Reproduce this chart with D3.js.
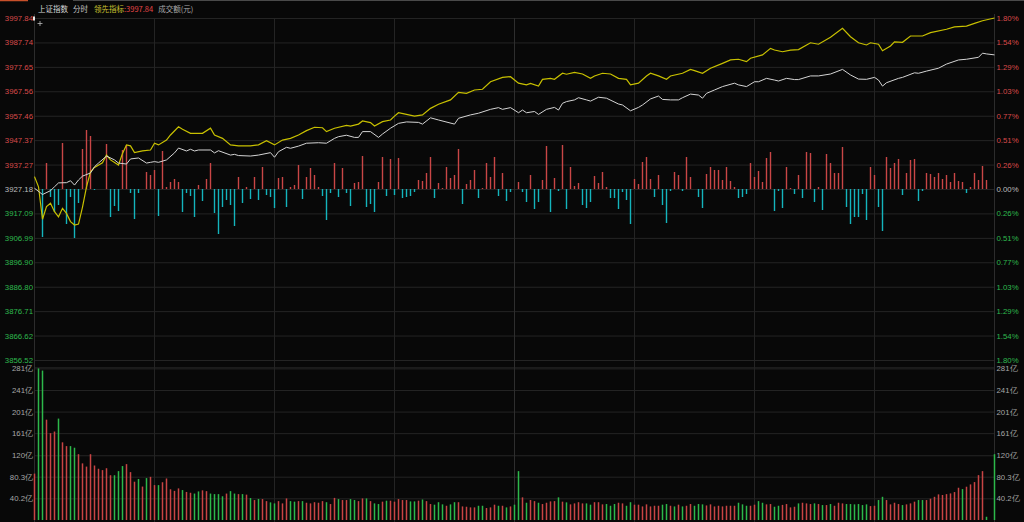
<!DOCTYPE html>
<html>
<head>
<meta charset="utf-8">
<script src="https://cdn.jsdelivr.net/npm/d3@7"></script>
<style>
    html, body { margin: 0; padding: 0; background: #080808; overflow: hidden; }
    svg { display: block; }
</style>
</head>
<body>
<svg id="chart"></svg>
<script>
// ---- data ----
const prevClose = 3927.18;
const priceTicks = [3997.84, 3987.74, 3977.65, 3967.56, 3957.46, 3947.37, 3937.27, 3927.18,
    3917.09, 3906.99, 3896.90, 3886.80, 3876.71, 3866.62, 3856.52];
const pctTicks = ['1.80%', '1.54%', '1.29%', '1.03%', '0.77%', '0.51%', '0.26%', '0.00%',
    '0.26%', '0.51%', '0.77%', '1.03%', '1.29%', '1.54%', '1.80%'];
const volMax = 281.2;
const volTicks = [40.2, 80.3, 120, 161, 201, 241, 281];
const volTickLabels = ['40.2亿', '80.3亿', '120亿', '161亿', '201亿', '241亿', '281亿'];
const timeGrid = [30, 60, 90, 120, 150, 180, 210]; // minute index of 10:00 ... 14:30
const headerTexts = ['上证指数', '分时', '领先指标', ':3997.84', '成交额(元)'];

// 上证指数 (white line): minute index / price
const indexMin = [0, 2, 4, 5, 6, 8, 9, 10, 11, 12, 14, 15, 16, 18, 20, 21, 23, 24, 26, 28, 29, 30, 31, 33, 35, 36, 38, 39, 40, 41,
    44, 45, 46, 49, 50, 51, 54, 56, 59, 60, 61, 63, 64, 66, 68, 71, 73, 75, 76, 78, 80, 81, 82, 84, 86, 87, 89, 91, 93, 96,
    97, 99, 101, 105, 106, 109, 111, 114, 116, 117, 119, 121, 122, 123, 125, 126, 128, 130, 131, 132, 133, 135, 136, 138, 139, 141, 143, 146, 147, 149,
    151, 152, 154, 156, 157, 159, 161, 162, 164, 166, 167, 168, 170, 172, 175, 176, 178, 180, 181, 183, 185, 186, 188, 190, 191, 194, 196, 199, 202, 204,
    206, 208, 210, 211, 212, 213, 216, 217, 220, 221, 223, 226, 228, 231, 233, 236, 237, 238, 240];
const indexVal = [3927.5, 3924.9, 3926.5, 3928.1, 3929.7, 3929.8, 3930.6, 3928.8, 3930.9, 3932.5, 3933.8, 3936.4, 3937.9, 3940.8, 3939.2, 3937.9, 3937.5, 3939.6, 3940.0, 3937.9, 3938.2, 3938.5, 3938.2, 3939.2, 3942.1, 3944.1, 3942.9, 3943.6, 3942.9, 3943.3,
    3943.3, 3942.1, 3943.0, 3941.2, 3941.5, 3941.0, 3940.8, 3941.2, 3942.2, 3940.3, 3942.6, 3944.4, 3944.0, 3944.9, 3946.1, 3946.3, 3946.1, 3948.1, 3948.8, 3949.4, 3948.5, 3948.5, 3950.9, 3950.9, 3948.5, 3949.9, 3952.3, 3954.3, 3954.9, 3954.7,
    3954.0, 3956.6, 3955.7, 3954.0, 3956.4, 3957.8, 3958.5, 3960.1, 3960.8, 3960.1, 3960.8, 3958.7, 3959.8, 3958.7, 3959.2, 3958.0, 3960.1, 3960.9, 3959.8, 3962.6, 3963.3, 3964.0, 3964.9, 3964.0, 3963.5, 3965.1, 3964.7, 3962.3, 3961.9, 3959.5,
    3960.9, 3961.9, 3964.4, 3965.6, 3964.2, 3964.0, 3964.0, 3964.9, 3966.4, 3966.0, 3964.7, 3966.7, 3968.1, 3969.5, 3970.9, 3970.2, 3969.5, 3971.5, 3971.5, 3972.9, 3972.2, 3971.8, 3972.9, 3972.4, 3972.4, 3973.9, 3973.9, 3974.7, 3976.6, 3974.3,
    3972.6, 3972.5, 3973.3, 3972.2, 3969.7, 3971.1, 3972.9, 3973.3, 3975.2, 3975.0, 3975.9, 3977.1, 3978.8, 3980.5, 3980.8, 3981.6, 3983.3, 3983.0, 3982.6];

// 领先指标 (yellow line): minute index / value
const leadMin = [0, 1, 2, 3, 4, 5, 6, 7, 8, 9, 10, 11, 12, 13, 14, 15, 17, 18, 19, 21, 22, 23, 24, 25, 27, 29, 30, 31, 33, 34,
    36, 37, 39, 42, 44, 45, 47, 49, 51, 54, 56, 58, 60, 62, 64, 66, 68, 70, 72, 73, 75, 78, 79, 81, 82, 84, 85, 87, 89, 90,
    91, 93, 95, 97, 99, 101, 104, 106, 108, 110, 112, 114, 117, 119, 121, 123, 124, 126, 127, 129, 130, 132, 133, 135, 137, 139, 140, 142, 144, 146,
    148, 149, 151, 153, 154, 156, 158, 159, 162, 164, 165, 167, 169, 172, 174, 176, 178, 179, 182, 184, 185, 187, 189, 191, 194, 196, 199, 202, 204, 206,
    208, 209, 211, 212, 214, 215, 217, 219, 222, 224, 228, 230, 233, 235, 237, 240];
const leadVal = [3932.3, 3928.1, 3914.7, 3919.9, 3921.3, 3917.8, 3915.7, 3919.2, 3917.1, 3913.7, 3912.3, 3912.7, 3919.7, 3928.1, 3934.3, 3936.1, 3938.0, 3941.2, 3939.2, 3937.1, 3941.9, 3945.4, 3945.0, 3942.2, 3942.9, 3943.3, 3946.1, 3945.4, 3947.4, 3949.5,
    3952.9, 3951.9, 3950.2, 3950.2, 3952.3, 3949.5, 3948.1, 3945.4, 3945.0, 3945.0, 3945.4, 3947.1, 3945.4, 3947.4, 3948.1, 3949.5, 3951.3, 3952.7, 3952.5, 3950.9, 3952.3, 3953.5, 3953.2, 3954.0, 3955.3, 3954.6, 3953.2, 3955.0, 3955.7, 3957.3,
    3958.7, 3958.0, 3957.3, 3957.8, 3960.5, 3962.2, 3964.0, 3967.1, 3966.7, 3968.1, 3968.4, 3971.5, 3973.3, 3973.6, 3970.9, 3970.2, 3970.8, 3969.7, 3972.5, 3972.9, 3972.5, 3975.0, 3974.6, 3975.4, 3974.7, 3972.9, 3973.9, 3975.0, 3974.7, 3972.9,
    3972.5, 3970.2, 3970.9, 3973.9, 3975.0, 3973.9, 3972.5, 3973.9, 3975.0, 3976.6, 3976.1, 3975.0, 3977.1, 3979.1, 3980.5, 3980.8, 3979.8, 3981.2, 3982.6, 3985.3, 3984.6, 3983.9, 3984.6, 3984.8, 3987.6, 3987.0, 3989.9, 3993.6, 3990.1, 3987.6,
    3986.7, 3987.6, 3987.0, 3984.3, 3986.3, 3988.0, 3987.8, 3990.4, 3990.4, 3991.8, 3993.2, 3994.2, 3994.5, 3995.6, 3996.7, 3997.84];

// buy/sell strength bars, one per minute (positive red, negative cyan)
const strength = [0, 0, -48, 26, -8, -23, -16, 46, -35, -8, -49, -14, 40, 59, 53, -1, 0, 0, 45, -28,
    -17, -22, 39, 44, -4, -30, -4, 0, 17, 14, 19, -27, 38, 2, 7, 10, 7, -23, -4, -7,
    -28, 4, -12, 10, 26, -24, -45, -18, -11, -16, -37, 12, -14, 2, -10, 12, -11, 22, -6, -8,
    -19, 11, 12, -18, 2, 4, 24, -10, 12, 21, 14, 2, -7, -31, -4, 26, -8, 21, -4, -17,
    6, 7, 33, -18, -15, -23, 7, 32, -7, 30, -6, 31, -9, -8, -7, -3, 9, 8, 16, 32,
    -9, 6, 1, 22, 11, 14, 40, -15, 5, 9, 19, -9, 1, 26, 12, 32, -7, 16, -12, -3,
    0, 7, -3, -13, 14, -20, -13, 9, 43, -23, 11, -2, 44, -20, 22, 3, 6, -16, -19, -13,
    13, 6, 17, 2, -9, -9, -20, -3, -11, -35, 10, 5, 27, 32, 10, -8, 14, -16, -34, -2,
    17, 14, -2, 32, 12, 0, -8, -19, 15, 22, 19, 19, 9, 22, 8, 2, -9, -8, -5, 26,
    12, 18, 7, 31, 37, -22, -2, -19, 22, 1, -5, 14, -9, 37, 36, -13, 2, -21, 35, 26,
    16, 16, 42, -18, -35, -28, -28, -5, -31, 22, 14, -18, -42, 32, 21, 26, 30, -6, 16, 29,
    30, -12, -2, 16, 15, 12, 16, 10, 14, 7, 16, 8, 7, -4, 2, 16, 9, 23, 9, 0,
    0];

// 成交额 per minute (亿元) and its direction (R up / G down)
const volume = [86, 281, 277, 186, 161, 164, 188, 144, 137, 137, 134, 122, 105, 99, 122, 101, 95, 92.5, 96, 83,
    83, 90.6, 100, 103.6, 88.8, 71, 76, 62, 77.7, 80, 64.7, 64.7, 70, 77, 57, 54, 58.6, 55.5, 52, 50.5,
    49, 53, 55, 53.5, 49, 48, 48, 44, 49, 53.5, 49, 48, 48, 47, 40.7, 37, 39, 38.8, 35, 32.7,
    30.8, 35, 30.8, 40, 35, 34, 35, 35, 32, 30.8, 33, 32, 35, 33, 29.6, 41, 38.8, 37, 37, 38.8,
    37, 35, 40, 40, 35, 30.8, 29.6, 34, 35.8, 35.8, 34, 38.8, 37, 37, 34.5, 34.5, 35.8, 38, 35, 29.6,
    28.4, 33, 29, 26.4, 29, 33, 33, 25.2, 24.6, 23.4, 23.4, 26.4, 26.4, 22.2, 23.4, 28.4, 26.4, 26.4, 23.4, 25.2,
    28.4, 90.6, 42, 32, 37, 35, 32, 29.6, 32, 34.5, 35, 42, 34, 32.7, 29, 30.8, 33, 30.8, 30.8, 28.4,
    33, 33, 29, 29.6, 26.4, 29.6, 32, 30.8, 26.4, 33, 28.4, 28.4, 25.2, 29, 25.2, 26.4, 26.4, 28.4, 29.6, 26.4,
    25.2, 28.4, 25.2, 26.4, 29.6, 26.4, 29.6, 29, 27, 29, 25.2, 26.4, 25.2, 26.4, 26.4, 26.4, 32, 29, 26.4, 26.4,
    28.4, 35, 32, 29, 29.6, 24.6, 26.4, 28, 29.6, 23.4, 24.6, 30.8, 32, 30.8, 29.6, 30.8, 29.6, 27.7, 27.7, 29.6,
    26.4, 32, 30.8, 29.6, 29.6, 29, 29.6, 27.7, 29, 25.8, 26.4, 37, 43, 37, 29, 32, 29.6, 27.7, 29, 30.8,
    34, 37, 37, 37, 39.5, 43, 47.5, 46.3, 48, 49.3, 51.8, 59.8, 57.3, 61.7, 66, 70.3, 83.2, 90.6, 6, 0,
    122];
const volumeDir = ('RGGRRRGRRG' + 'GRRRRRRRRR' + 'GGGRRRGRGR' + 'RGRRRRRGRR' + 'GGRRGGGGRG' +
    'GRGRGRGRRG' + 'GRRRGGRGRR' + 'RRRGRRGRRG' + 'GRRGRGGRGR' + 'RRRRGGRGRR' +
    'GGGRGGRRRR' + 'RGGRRRGRGR' + 'GGRGRRGRRR' + 'RGRGRRRRGG' + 'RRRGGGRRGG' +
    'RRRRRRRGGR' + 'GRGRRGGGRR' + 'RRRRRRGGGR' + 'RGGRRGGRRR' + 'RGRRRGRGRG' +
    'RRRGGGGGGR' + 'RGGRRRRGRR' + 'RGGRRRRRRR' + 'RRGRRRRRGG' + 'G').split('');

class IntradayChart {
    constructor(_config) {
        this.config = {
            parentElement: _config.parentElement,
            containerWidth: _config.containerWidth || 1024,
            containerHeight: _config.containerHeight || 522,
            plotLeft: 34.5,
            plotRight: 994.5,
            priceTop: 18,
            priceBottom: 360,
            volTop: 368.3,
            volBottom: 520
        };
        this.initVis();
    }

    initVis() {
        let vis = this;
        const c = vis.config;

        vis.svg = d3.select(c.parentElement)
            .attr('width', c.containerWidth)
            .attr('height', c.containerHeight)
            .style('font-family', '"Liberation Sans", Arial, sans-serif');

        vis.svg.append('rect')
            .attr('width', c.containerWidth)
            .attr('height', c.containerHeight)
            .attr('fill', '#080808');

        vis.x = d3.scaleLinear().domain([0, 240]).range([c.plotLeft, c.plotRight]);
        vis.yPrice = d3.scaleLinear()
            .domain([priceTicks[priceTicks.length - 1], priceTicks[0]])
            .range([c.priceBottom, c.priceTop]);
        vis.yVol = d3.scaleLinear().domain([0, volMax]).range([c.volBottom, c.volTop]);

        // strength bars share the zero line of the price pane
        const y0 = vis.yPrice(prevClose);
        vis.yStrength = d3.scaleLinear().domain([-60, 60]).range([y0 + 60, y0 - 60]);

        vis.red = '#d84a4a';
        vis.green = '#2eb84e';
        vis.grey = '#bdbdbd';
    }

    renderVis() {
        let vis = this;
        const c = vis.config;
        const width = c.plotRight - c.plotLeft;

        // tab strip at the very top
        vis.svg.append('line').attr('x1', 0).attr('x2', 28).attr('y1', 0.5).attr('y2', 0.5)
            .attr('stroke', '#c8502a').attr('stroke-width', 1.5);
        vis.svg.append('line').attr('x1', 73).attr('x2', c.containerWidth).attr('y1', 0.5).attr('y2', 0.5)
            .attr('stroke', '#4a4a4a');

        // horizontal grid, price pane
        vis.svg.append('g')
            .attr('class', 'grid')
            .attr('transform', `translate(${c.plotLeft},0)`)
            .call(d3.axisLeft(vis.yPrice).tickValues(priceTicks).tickSize(-width).tickFormat(''))
            .call(g => g.select('.domain').remove())
            .call(g => g.selectAll('line').attr('stroke', '#242424'));

        // horizontal grid, volume pane
        vis.svg.append('g')
            .attr('class', 'grid')
            .attr('transform', `translate(${c.plotLeft},0)`)
            .call(d3.axisLeft(vis.yVol).tickValues(volTicks).tickSize(-width).tickFormat(''))
            .call(g => g.select('.domain').remove())
            .call(g => g.selectAll('line').attr('stroke', '#242424'));

        vis.svg.append('line')
            .attr('x1', c.plotLeft).attr('x2', c.plotRight)
            .attr('y1', c.volTop - 0.5).attr('y2', c.volTop - 0.5)
            .attr('stroke', '#262626');

        // vertical grid
        vis.svg.append('g').selectAll('line')
            .data(timeGrid)
            .join('line')
            .attr('x1', d => vis.x(d)).attr('x2', d => vis.x(d))
            .attr('y1', c.priceTop).attr('y2', c.volBottom + 2)
            .attr('stroke', d => d === 120 ? '#2e2e2e' : '#242424');

        // pane borders
        vis.svg.append('g').selectAll('line')
            .data([0, 240])
            .join('line')
            .attr('x1', d => vis.x(d)).attr('x2', d => vis.x(d))
            .attr('y1', 14).attr('y2', c.containerHeight)
            .attr('stroke', '#2c2c2c');

        // strength bars
        vis.svg.append('g').selectAll('line')
            .data(strength.map((v, i) => ({ i, v })).filter(d => d.v !== 0))
            .join('line')
            .attr('x1', d => vis.x(d.i)).attr('x2', d => vis.x(d.i))
            .attr('y1', vis.yStrength(0))
            .attr('y2', d => vis.yStrength(d.v))
            .attr('stroke', d => d.v > 0 ? '#c94646' : '#14b4bc')
            .attr('stroke-width', 1.4);

        // lines
        const line = d3.line().x(d => vis.x(d[0])).y(d => vis.yPrice(d[1]));
        vis.svg.append('path')
            .datum(leadMin.map((m, i) => [m, leadVal[i]]))
            .attr('d', line)
            .attr('fill', 'none')
            .attr('stroke', '#c8c000')
            .attr('stroke-width', 1.2);
        vis.svg.append('path')
            .datum(indexMin.map((m, i) => [m, indexVal[i]]))
            .attr('d', line)
            .attr('fill', 'none')
            .attr('stroke', '#d4d4d4')
            .attr('stroke-width', 1);

        // volume bars
        vis.svg.append('g').selectAll('line')
            .data(volume.map((v, i) => ({ i, v, dir: volumeDir[i] })).filter(d => d.v > 0))
            .join('line')
            .attr('x1', d => vis.x(d.i)).attr('x2', d => vis.x(d.i))
            .attr('y1', vis.yVol(0))
            .attr('y2', d => vis.yVol(d.v))
            .attr('stroke', d => d.dir === 'R' ? '#c84444' : '#2cb84a')
            .attr('stroke-width', 1.5);

        const labelColor = d => d > prevClose ? vis.red : (d < prevClose ? vis.green : vis.grey);
        const styleText = g => g.selectAll('text')
            .attr('font-size', '7.8px')
            .attr('font-family', '"Liberation Sans", Arial, sans-serif');

        // left price labels
        vis.svg.append('g')
            .attr('transform', 'translate(33,0)')
            .call(d3.axisLeft(vis.yPrice).tickValues(priceTicks).tickSize(0).tickPadding(0)
                .tickFormat(d3.format('.2f')))
            .call(g => g.select('.domain').remove())
            .call(styleText)
            .call(g => g.selectAll('text').attr('fill', d => labelColor(d)));

        // right percent labels
        vis.svg.append('g')
            .attr('transform', 'translate(996.5,0)')
            .call(d3.axisRight(vis.yPrice).tickValues(priceTicks).tickSize(0).tickPadding(0)
                .tickFormat((d, i) => pctTicks[i]))
            .call(g => g.select('.domain').remove())
            .call(styleText)
            .call(g => g.selectAll('text').attr('fill', d => labelColor(d)));

        // volume labels, both sides
        vis.svg.append('g')
            .attr('transform', 'translate(33,0)')
            .call(d3.axisLeft(vis.yVol).tickValues(volTicks).tickSize(0).tickPadding(0)
                .tickFormat((d, i) => volTickLabels[i]))
            .call(g => g.select('.domain').remove())
            .call(styleText)
            .call(g => g.selectAll('text').attr('fill', '#a6a6a6'));
        vis.svg.append('g')
            .attr('transform', 'translate(996.5,0)')
            .call(d3.axisRight(vis.yVol).tickValues(volTicks).tickSize(0).tickPadding(0)
                .tickFormat((d, i) => volTickLabels[i]))
            .call(g => g.select('.domain').remove())
            .call(styleText)
            .call(g => g.selectAll('text').attr('fill', '#a6a6a6'));

        // header: one text run, gaps between groups
        const headerGap = [0, 5, 6, 0, 5];
        const headerColor = ['#d6d6d6', '#c4c4c4', '#c8c030', '#e04646', '#a8a8a8'];
        vis.svg.append('text')
            .attr('x', 38)
            .attr('y', 12)
            .attr('font-size', '7.5px')
            .attr('font-family', '"Noto Sans CJK SC", "Liberation Sans", sans-serif')
            .selectAll('tspan')
            .data(headerTexts)
            .join('tspan')
            .attr('dx', (d, i) => headerGap[i])
            .attr('fill', (d, i) => headerColor[i])
            .text(d => d);

        // cursor marker and crosshair icon
        vis.svg.append('rect').attr('x', 33).attr('y', 16.5).attr('width', 2).attr('height', 4)
            .attr('fill', '#e8e8e8');
        vis.svg.append('path')
            .attr('d', 'M37.5,23.5H42.5M40,21V26')
            .attr('stroke', '#bbbbbb').attr('stroke-width', 0.8);
    }
}

const chart = new IntradayChart({ parentElement: '#chart' });
chart.renderVis();
</script>
</body>
</html>
